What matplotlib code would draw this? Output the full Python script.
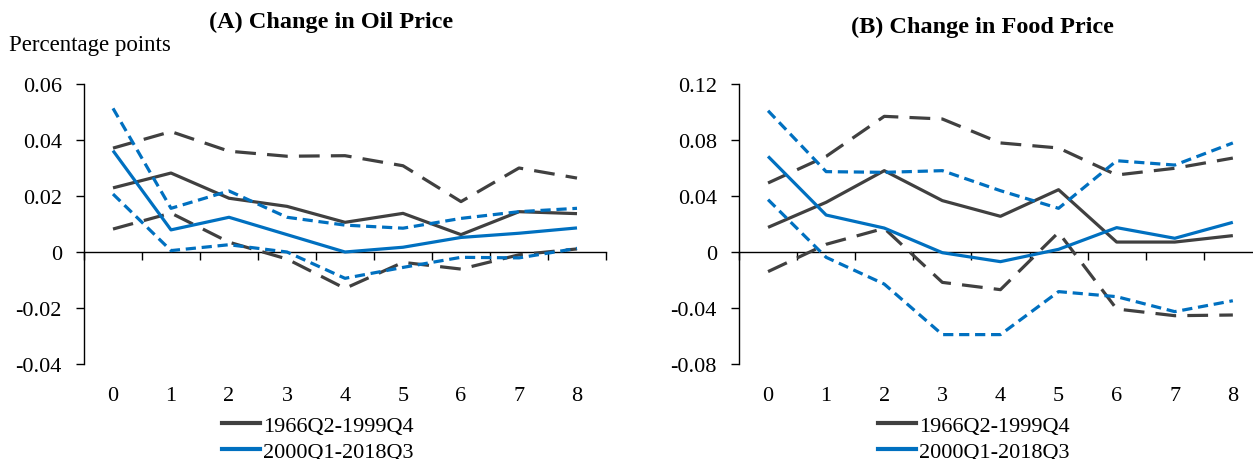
import matplotlib
matplotlib.use("Agg")
import matplotlib.pyplot as plt
from matplotlib.lines import Line2D

# Horizon (quarters after the shock)
horizon = [0, 1, 2, 3, 4, 5, 6, 7, 8]

# Panel A: response to a change in oil price
oil_pre = [0.0229, 0.0282, 0.0192, 0.0163, 0.0106, 0.0138, 0.0062, 0.0144, 0.0137]
oil_pre_hi = [0.0371, 0.0430, 0.0360, 0.0342, 0.0344, 0.0308, 0.0180, 0.0300, 0.0264]
oil_pre_lo = [0.0082, 0.0139, 0.0035, -0.0025, -0.0130, -0.0037, -0.0061, -0.0010, 0.0011]
oil_post = [0.0362, 0.0079, 0.0124, 0.0062, 0.0000, 0.0017, 0.0052, 0.0067, 0.0086]
oil_post_hi = [0.0513, 0.0156, 0.0218, 0.0124, 0.0096, 0.0085, 0.0120, 0.0144, 0.0156]
oil_post_lo = [0.0207, 0.0005, 0.0026, 0.0000, -0.0094, -0.0055, -0.0019, -0.0021, 0.0013]

# Panel B: response to a change in food price
food_pre = [0.0176, 0.0355, 0.0581, 0.0367, 0.0255, 0.0445, 0.0071, 0.0071, 0.0117]
food_pre_hi = [0.0493, 0.0683, 0.0969, 0.0950, 0.0779, 0.0743, 0.0550, 0.0598, 0.0671]
food_pre_lo = [-0.0140, 0.0055, 0.0169, -0.0217, -0.0269, 0.0140, -0.0407, -0.0455, -0.0450]
food_post = [0.0683, 0.0264, 0.0171, -0.0005, -0.0069, 0.0019, 0.0174, 0.0098, 0.0212]
food_post_hi = [0.1009, 0.0574, 0.0569, 0.0581, 0.0438, 0.0312, 0.0652, 0.0621, 0.0779]
food_post_lo = [0.0374, -0.0038, -0.0229, -0.0590, -0.0590, -0.0283, -0.0319, -0.0426, -0.0348]

oil_ticks = [-0.04, -0.02, 0, 0.02, 0.04, 0.06]
oil_ticklabels = ["-0.04", "-0.02", "0", "0.02", "0.04", "0.06"]
food_ticks = [-0.08, -0.04, 0, 0.04, 0.08, 0.12]
food_ticklabels = ["-0.08", "-0.04", "0", "0.04", "0.08", "0.12"]

series_labels = ["1966Q2-1999Q4", "2000Q1-2018Q3"]
titles = ["(A) Change in Oil Price", "(B) Change in Food Price"]

GRAY = "#404040"
BLUE = "#0070C0"
LW = 2.3
FS = 16

plt.rcParams["font.family"] = ["Liberation Serif", "DejaVu Serif"]

W, H = 1253, 460
fig = plt.figure(figsize=(W / 100, H / 100), dpi=100)


def px_axes(left, right, top, bottom):
    return fig.add_axes([left / W, 1 - bottom / H, (right - left) / W, (bottom - top) / H])


def draw_panel(ax, pre, pre_hi, pre_lo, post, post_hi, post_lo, ticks, ticklabels):
    ax.plot(horizon, pre_hi, color=GRAY, lw=LW, dashes=(6.5, 3.5))
    ax.plot(horizon, pre_lo, color=GRAY, lw=LW, dashes=(6.5, 3.5))
    ax.plot(horizon, pre, color=GRAY, lw=LW, solid_capstyle="butt")
    ax.plot(horizon, post_hi, color=BLUE, lw=LW, dashes=(3.2, 1.8))
    ax.plot(horizon, post_lo, color=BLUE, lw=LW, dashes=(3.2, 1.8))
    ax.plot(horizon, post, color=BLUE, lw=LW, solid_capstyle="butt")

    ax.set_xlim(-0.5, 8.5)
    ax.set_ylim(ticks[0], ticks[-1])
    ax.set_yticks(ticks)
    ax.set_yticklabels(ticklabels)
    ax.tick_params(axis="y", direction="out", length=6, width=1, pad=10,
                   labelsize=FS, colors="black")

    # category labels along the bottom, no tick marks
    ax.set_xticks(horizon)
    ax.set_xticklabels([str(h) for h in horizon])
    ax.tick_params(axis="x", length=0, pad=16, labelsize=FS)

    for s in ["top", "right", "bottom"]:
        ax.spines[s].set_visible(False)
    ax.spines["left"].set_linewidth(1)

    # horizontal axis through zero with boundary tick marks
    zero_frac = (0 - ticks[0]) / (ticks[-1] - ticks[0])
    sec = ax.secondary_xaxis(zero_frac)
    sec.set_xticks([h + 0.5 for h in [-1] + horizon])
    sec.set_xticklabels([])
    sec.tick_params(direction="out", length=6, width=1)
    sec.spines["bottom"].set_linewidth(1)
    sec.spines["top"].set_visible(False)


axA = px_axes(84, 606, 85, 365)
draw_panel(axA, oil_pre, oil_pre_hi, oil_pre_lo, oil_post, oil_post_hi, oil_post_lo,
           oil_ticks, oil_ticklabels)

axB = px_axes(739, 739 + 9 * 58.1, 85, 365)
draw_panel(axB, food_pre, food_pre_hi, food_pre_lo, food_post, food_post_hi, food_post_lo,
           food_ticks, food_ticklabels)

fig.text(331 / W, 1 - 22 / H, titles[0], ha="center", va="center",
         fontsize=17.5, fontweight="bold")
fig.text(982 / W, 1 - 27 / H, titles[1], ha="center", va="center",
         fontsize=17.5, fontweight="bold")
fig.text(9 / W, 1 - 46 / H, "Percentage points", ha="left", va="center", fontsize=16.5)

handles = [Line2D([], [], color=GRAY, lw=3),
           Line2D([], [], color=BLUE, lw=3)]
for x0 in (222, 878):
    fig.legend(handles, series_labels, loc="upper left",
               bbox_to_anchor=(x0 / W, 1 - 416 / H), frameon=False,
               fontsize=FS, handlelength=1.7, handletextpad=0.15,
               labelspacing=0.25, borderpad=0, borderaxespad=0)

fig.savefig("out.png", dpi=100)
